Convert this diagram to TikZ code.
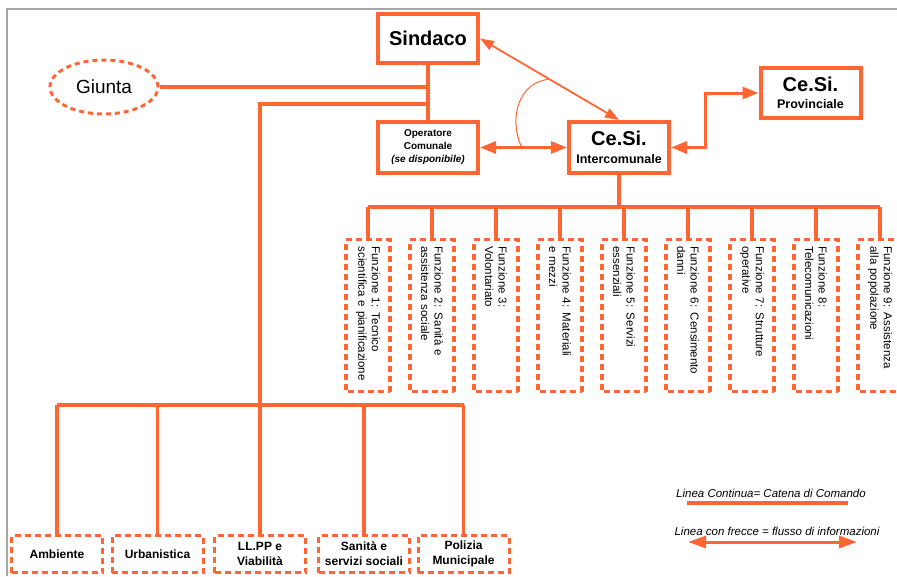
\documentclass[tikz,border=0pt]{standalone}
\usepackage{fontspec}
\setmainfont{Liberation Sans}
\usetikzlibrary{shapes.geometric,arrows.meta,calc}
\definecolor{arancio}{RGB}{255,102,51}

\tikzset{
  solidbox/.style={draw=arancio, line width=4pt, fill=white, minimum width=100pt,
    minimum height=51pt, align=center, inner sep=2pt, font=\bfseries},
  funzbox/.style={draw=arancio, line width=3.5pt, dash pattern=on 6pt off 4pt,
    rotate=-90, minimum width=152pt, minimum height=44pt, text width=138pt,
    inner xsep=7pt, align=left, font=\fontsize{11.5}{13.5}\selectfont},
  ufficio/.style={draw=arancio, line width=3pt, dash pattern=on 6pt off 4pt,
    minimum width=91pt, minimum height=37pt, inner sep=1pt, align=center,
    font=\fontsize{12}{15}\selectfont\bfseries},
  chain/.style={draw=arancio, line width=3.5pt},
  info/.style={draw=arancio, line width=3pt,
    {Triangle[length=16pt,width=12pt]}-{Triangle[length=16pt,width=12pt]}},
  infothin/.style={draw=arancio, line width=1.8pt,
    {Triangle[length=14pt,width=10pt]}-{Triangle[length=14pt,width=10pt]}},
  legenda/.style={font=\fontsize{11.5}{14}\selectfont\itshape}
}

\begin{document}
\begin{tikzpicture}[x=1pt,y=-1pt]
\useasboundingbox (0,0) rectangle (897,576);
\draw[gray!70, line width=1.5pt] (7,576) -- (7,9) -- (897,9);

\node[solidbox, minimum height=49pt, font=\fontsize{20}{22}\selectfont\bfseries] (sindaco) at (428,38.5) {Sindaco};
\node[ellipse, draw=arancio, line width=3pt, dash pattern=on 5pt off 4pt, minimum width=108pt,
  minimum height=54pt, font=\fontsize{19}{22}\selectfont] (giunta) at (104,87) {Giunta};
\node[solidbox, font=\fontsize{10}{13}\selectfont\bfseries] (operatore) at (428,147.5)
  {Operatore\\Comunale\\\textit{(se disponibile)}};
\node[solidbox] (cesi) at (619,147.5)
  {\fontsize{20}{22}\selectfont Ce.Si.\\[6pt]\fontsize{12.5}{14}\selectfont Intercomunale};
\node[solidbox, minimum height=50pt] (prov) at (810.5,93)
  {\fontsize{20}{22}\selectfont Ce.Si.\\[5pt]\fontsize{12.5}{14}\selectfont Provinciale};

\foreach \i/\testo in {1/{Funzione 1: Tecnico\\scientifica e pianificazione},
    2/{Funzione 2: Sanità e\\assistenza sociale}, 3/{Funzione 3:\\Volontariato},
    4/{Funzione 4: Materiali\\e mezzi}, 5/{Funzione 5: Servizi\\essenziali},
    6/{Funzione 6: Censimento\\danni}, 7/{Funzione 7: Strutture\\operative},
    8/{Funzione 8:\\Telecomunicazioni}, 9/{Funzione 9: Assistenza\\alla popolazione}}
  \node[funzbox] (f\i) at ({304+64*\i},315.5) {\testo};

\foreach \j/\px/\testo in {1/57/Ambiente, 2/157.5/Urbanistica, 3/260/{LL.PP e\\Viabilità},
    4/364/{Sanità e\\servizi sociali}, 5/463.5/{Polizia\\Municipale}}
  \node[ufficio] (b\j) at (\px,554) {\testo};

\coordinate (gbus) at (260,104);
\coordinate (bbus) at (260,405);
\coordinate (fbus) at (619,207);

\draw[chain] (sindaco.south) -- (operatore.north);
\draw[chain, line width=4pt] (giunta.east) -- (giunta.east -| sindaco.south);
\draw[chain] (sindaco.south |- gbus) -- (gbus) -- (bbus);
\draw[chain, line width=4pt] (b1.north |- bbus) -- (b5.north |- bbus);
\foreach \j in {1,...,5}
  \draw[chain] (b\j.north |- bbus) -- (b\j.north);

\draw[chain] (cesi.south) -- (fbus);
\draw[chain, line width=4pt] (f1.west |- fbus) -- (f9.west |- fbus);
\foreach \i in {1,...,9}
  \draw[chain] (f\i.west |- fbus) -- (f\i.west);

\draw[infothin] (sindaco.east) -- (cesi.north);
\draw[info] (operatore.east) -- (cesi.west);
\draw[info] (cesi.east) -- ++(34,0) |- (prov.west);

\coordinate (k1) at ($(operatore.east)!0.48!(cesi.west)$);
\coordinate (k2) at ($(sindaco.east)!0.5!(cesi.north)$);
\draw[arancio, line width=1pt] (k1) .. controls +(-14,-30) and +(-30,2) .. (k2);

\node[legenda] (leg1) at (771,493) {Linea Continua= Catena di Comando};
\node[legenda] (leg2) at (777,531) {Linea con frecce = flusso di informazioni};
\coordinate (lc1) at (687,503);
\coordinate (lc2) at (848,503);
\draw[chain, line width=4pt] (lc1) -- (lc2);
\coordinate (lf1) at (688,542);
\coordinate (lf2) at (857,542);
\draw[draw=arancio, line width=3pt, {Triangle[length=18pt,width=12pt]}-{Triangle[length=18pt,width=12pt]}] (lf1) -- (lf2);
\end{tikzpicture}
\end{document}
